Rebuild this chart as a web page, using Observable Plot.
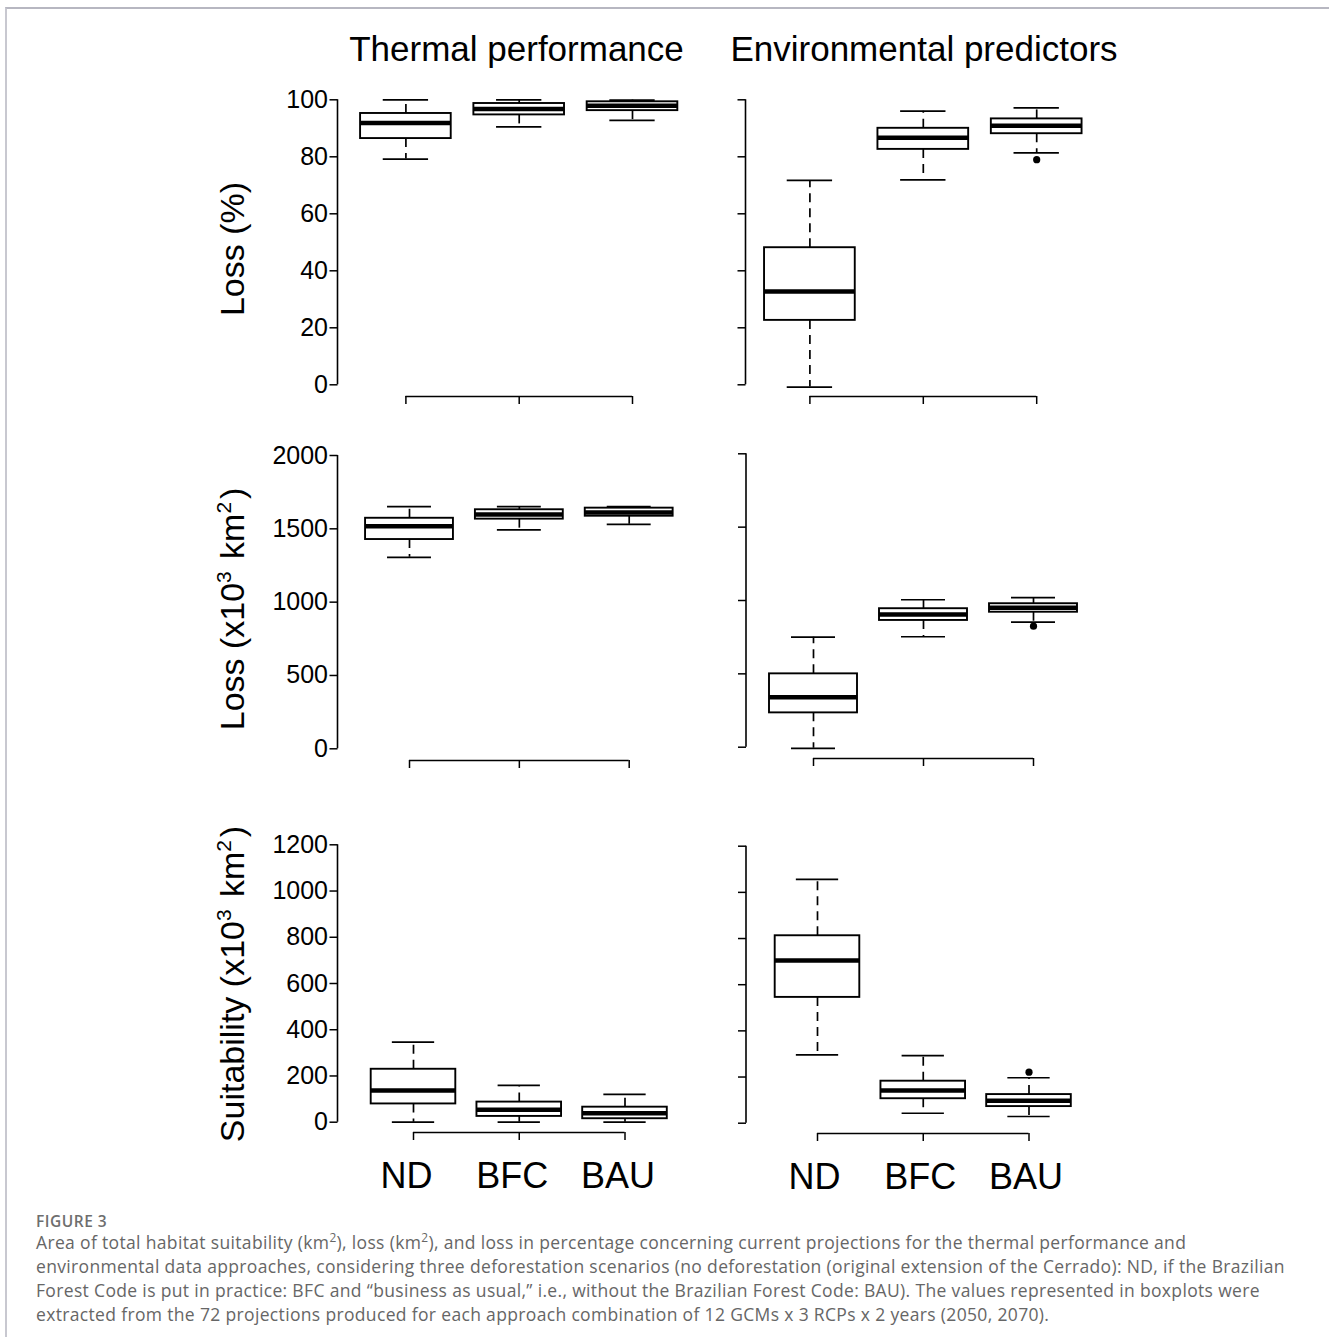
<!DOCTYPE html>
<html><head><meta charset="utf-8">
<script src="https://cdn.jsdelivr.net/npm/d3@7"></script>
<script src="https://cdn.jsdelivr.net/npm/@observablehq/plot@0.6"></script>
<style>
html,body{margin:0;padding:0;background:#fff;}
#root{position:relative;width:1329px;height:1337px;overflow:hidden;background:#fff;}
.frame{position:absolute;left:5px;top:7px;right:-5px;bottom:-5px;border-top:2px solid #b7b7c1;border-left:2px solid #c8c8d0;}
.panel{position:absolute;}
.panel svg{overflow:visible;}
#overlay{position:absolute;left:0;top:0;pointer-events:none;}
.cap{position:absolute;left:36px;font-family:"Open Sans",Lato,sans-serif;color:#666;white-space:nowrap;}
#fig{top:1213px;font-size:15.5px;line-height:16px;height:16px;font-weight:600;letter-spacing:0.5px;color:#6e6e6e;}
#txt{top:1230px;font-size:17.5px;line-height:24px;letter-spacing:0.34px;}
#txt sup{font-size:0.68em;line-height:0;vertical-align:0.55em;}
</style></head>
<body><div id="root"><div class="frame"></div>
<div id="fig" class="cap">FIGURE 3</div>
<div id="txt" class="cap">Area of total habitat suitability (km<sup>2</sup>), loss (km<sup>2</sup>), and loss in percentage concerning current projections for the thermal performance and<br>environmental data approaches, considering three deforestation scenarios (no deforestation (original extension of the Cerrado): ND, if the Brazilian<br>Forest Code is put in practice: BFC and “business as usual,” i.e., without the Brazilian Forest Code: BAU). The values represented in boxplots were<br>extracted from the 72 projections produced for each approach combination of 12 GCMs x 3 RCPs x 2 years (2050, 2070).</div>
</div>
<script>
// ---------- data ----------
const scenarios = ["ND", "BFC", "BAU"];
const pctTicks = [0, 20, 40, 60, 80, 100];
const lossTicks = [0, 500, 1000, 1500, 2000];
const suitTicks = [0, 200, 400, 600, 800, 1000, 1200];

// Thermal performance – Loss (%)
const tpPctLow  = [79.2, 90.5, 92.8];
const tpPctQ1   = [86.4, 94.7, 96.2];
const tpPctMed  = [91.9, 96.8, 97.9];
const tpPctQ3   = [95.2, 98.7, 99.3];
const tpPctHigh = [100, 100, 99.9];
const tpPctOut  = [];
// Environmental predictors – Loss (%)
const epPctLow  = [-0.8, 71.9, 81.4];
const epPctQ1   = [22.6, 82.6, 88.1];
const epPctMed  = [32.7, 86.7, 90.9];
const epPctQ3   = [48.1, 90.0, 93.3];
const epPctHigh = [71.7, 96.0, 97.2];
const epPctOut  = [{s: "BAU", v: 79.0}];
// Thermal performance – Loss (x10^3 km2)
const tpLossLow  = [1306, 1493, 1531];
const tpLossQ1   = [1427, 1566, 1586];
const tpLossMed  = [1518, 1597, 1611];
const tpLossQ3   = [1572, 1630, 1641];
const tpLossHigh = [1652, 1652, 1652];
const tpLossOut  = [];
// Environmental predictors – Loss (x10^3 km2)
const epLossLow  = [-8, 753, 852];
const epLossQ1   = [234, 864, 920];
const epLossMed  = [341, 905, 950];
const epLossQ3   = [500, 944, 978];
const epLossHigh = [750, 1005, 1019];
const epLossOut  = [{s: "BAU", v: 825}];
// Thermal performance – Suitability (x10^3 km2)
const tpSuitLow  = [0, 0, 0];
const tpSuitQ1   = [79, 25, 15];
const tpSuitMed  = [137, 54, 39];
const tpSuitQ3   = [229, 87, 65];
const tpSuitHigh = [346, 159, 120];
const tpSuitOut  = [];
// Environmental predictors – Suitability (x10^3 km2)
const epSuitLow  = [296, 43, 29];
const epSuitQ1   = [545, 106, 72];
const epSuitMed  = [705, 142, 97];
const epSuitQ3   = [812, 182, 124];
const epSuitHigh = [1056, 293, 197];
const epSuitOut  = [{s: "BAU", v: 221}];

function rows(lo, q1, med, q3, hi) {
  return scenarios.map((s, i) => ({s, lo: lo[i], q1: q1[i], med: med[i], q3: q3[i], hi: hi[i]}));
}

// ---------- layout ----------
const panels = [
  {left: 0,   top: 75,  width: 700, height: 345, axisX: 337.5, c1: 405.4, c3: 632.0, yBase: 384.3, yTop: 99.3,  bracket: 396, ymax: 100,  ticks: pctTicks,  ylab: true,  xlab: false, ldx: -7,
   data: rows(tpPctLow, tpPctQ1, tpPctMed, tpPctQ3, tpPctHigh), out: tpPctOut},
  {left: 700, top: 75,  width: 629, height: 345, axisX: 745.5, c1: 809.4, c3: 1036.2, yBase: 384.3, yTop: 99.3, bracket: 396, ymax: 100,  ticks: pctTicks,  ylab: false, xlab: false, ldx: -3,
   data: rows(epPctLow, epPctQ1, epPctMed, epPctQ3, epPctHigh), out: epPctOut},
  {left: 0,   top: 420, width: 700, height: 370, axisX: 337.5, c1: 409.0, c3: 628.7, yBase: 748.3, yTop: 455.0, bracket: 760, ymax: 2000, ticks: lossTicks, ylab: true,  xlab: false, ldx: -7,
   data: rows(tpLossLow, tpLossQ1, tpLossMed, tpLossQ3, tpLossHigh), out: tpLossOut},
  {left: 700, top: 420, width: 629, height: 370, axisX: 746.0, c1: 813.0, c3: 1033.0, yBase: 746.7, yTop: 453.3, bracket: 758, ymax: 2000, ticks: lossTicks, ylab: false, xlab: false, ldx: -3,
   data: rows(epLossLow, epLossQ1, epLossMed, epLossQ3, epLossHigh), out: epLossOut},
  {left: 0,   top: 790, width: 700, height: 420, axisX: 337.5, c1: 413.0, c3: 624.5, yBase: 1121.7, yTop: 844.3, bracket: 1132, ymax: 1200, ticks: suitTicks, ylab: true,  xlab: true, ldx: -7,
   data: rows(tpSuitLow, tpSuitQ1, tpSuitMed, tpSuitQ3, tpSuitHigh), out: tpSuitOut},
  {left: 700, top: 790, width: 629, height: 420, axisX: 746.0, c1: 817.0, c3: 1028.5, yBase: 1122.7, yTop: 845.7, bracket: 1133, ymax: 1200, ticks: suitTicks, ylab: false, xlab: true, ldx: -3,
   data: rows(epSuitLow, epSuitQ1, epSuitMed, epSuitQ3, epSuitHigh), out: epSuitOut}
];

const root = document.getElementById("root");
const FONT = "'Liberation Sans', Arial, Helvetica, sans-serif";

for (const p of panels) {
  const step = (p.c3 - p.c1) / 2;
  const ml = p.axisX - p.left;
  const frameBottom = p.bracket - p.top;
  const cap = 0.2 * step;
  const lw = 1.7;
  const chart = Plot.plot({
    width: p.width, height: p.height,
    marginLeft: ml, marginRight: 5, marginTop: 5, marginBottom: p.height - frameBottom,
    style: {fontFamily: FONT, background: "transparent", color: "black", overflow: "visible"},
    x: {type: "band", domain: scenarios, range: [p.c1 - p.left - 0.62 * step, p.c3 - p.left + 0.62 * step],
        paddingInner: 0.2, paddingOuter: 0.22, round: false, label: null, axis: null},
    y: {domain: [0, p.ymax], range: [p.yBase - p.top, p.yTop - p.top], label: null, axis: null},
    marks: [
      Plot.ruleX(p.data, {x: "s", y1: "q3", y2: "hi", stroke: "black", strokeWidth: lw, strokeDasharray: "9,6"}),
      Plot.ruleX(p.data, {x: "s", y1: "q1", y2: "lo", stroke: "black", strokeWidth: lw, strokeDasharray: "9,6"}),
      Plot.barY(p.data, {x: "s", y1: "q1", y2: "q3", fill: "white", stroke: "black", strokeWidth: 1.9}),
      Plot.tickY(p.data, {x: "s", y: "med", stroke: "black", strokeWidth: 4.5}),
      Plot.tickY(p.data, {x: "s", y: "hi", stroke: "black", strokeWidth: lw, insetLeft: cap, insetRight: cap}),
      Plot.tickY(p.data, {x: "s", y: "lo", stroke: "black", strokeWidth: lw, insetLeft: cap, insetRight: cap}),
      Plot.dot(p.out, {x: "s", y: "v", r: 3.6, fill: "black", stroke: "none"}),
      Plot.axisY({ticks: p.ticks, tickSize: 8, tickPadding: 2, fontSize: 25, strokeWidth: 1.5, label: null,
                  tickFormat: p.ylab ? (d) => String(d) : () => ""}),
      Plot.axisX({tickSize: 8, strokeWidth: 1.5, label: null, tickFormat: () => ""}),
      ...(p.xlab ? [Plot.axisX({tickSize: 0, tickPadding: 30, fontSize: 36, label: null, dx: p.ldx})] : [])
    ]
  });
  // R-style axis lines drawn from the library's own scales
  const xs = chart.scale("x"), ys = chart.scale("y");
  const cx = (v) => xs.apply(v) + xs.bandwidth / 2;
  const svg = d3.select(chart);
  svg.append("line").attr("x1", ml).attr("x2", ml)
    .attr("y1", ys.apply(0)).attr("y2", ys.apply(p.ymax))
    .attr("stroke", "black").attr("stroke-width", 1.6);
  svg.append("line").attr("x1", cx(scenarios[0])).attr("x2", cx(scenarios[scenarios.length - 1]))
    .attr("y1", frameBottom + 0.5).attr("y2", frameBottom + 0.5)
    .attr("stroke", "black").attr("stroke-width", 1.6);
  const div = document.createElement("div");
  div.className = "panel";
  div.style.left = p.left + "px";
  div.style.top = p.top + "px";
  div.appendChild(chart);
  root.appendChild(div);
}

// ---------- titles and axis labels ----------
const columnTitles = ["Thermal performance", "Environmental predictors"];
const overlay = d3.select(root).append("svg").attr("id", "overlay")
  .attr("width", 1329).attr("height", 1210)
  .style("font-family", FONT);
overlay.append("text").attr("x", 516.5).attr("y", 61).attr("text-anchor", "middle")
  .attr("font-size", 35).text(columnTitles[0]);
overlay.append("text").attr("x", 924).attr("y", 61).attr("text-anchor", "middle")
  .attr("font-size", 35).text(columnTitles[1]);

function ylabel(cy, parts) {
  const t = overlay.append("text").attr("transform", `translate(244,${cy}) rotate(-90)`)
    .attr("text-anchor", "middle").attr("font-size", 34);
  for (const [txt, sup] of parts) {
    if (sup) {
      t.append("tspan").attr("font-size", 21).attr("dy", -13).text(txt);
      t.append("tspan").attr("dy", 13).text("\u200A");
    } else {
      t.append("tspan").text(txt);
    }
  }
}
ylabel(249, [["Loss (%)", false]]);
ylabel(609, [["Loss (x10", false], ["3", true], [" km", false], ["2", true], [")", false]]);
ylabel(984, [["Suitability (x10", false], ["3", true], [" km", false], ["2", true], [")", false]]);
</script>
</body></html>
